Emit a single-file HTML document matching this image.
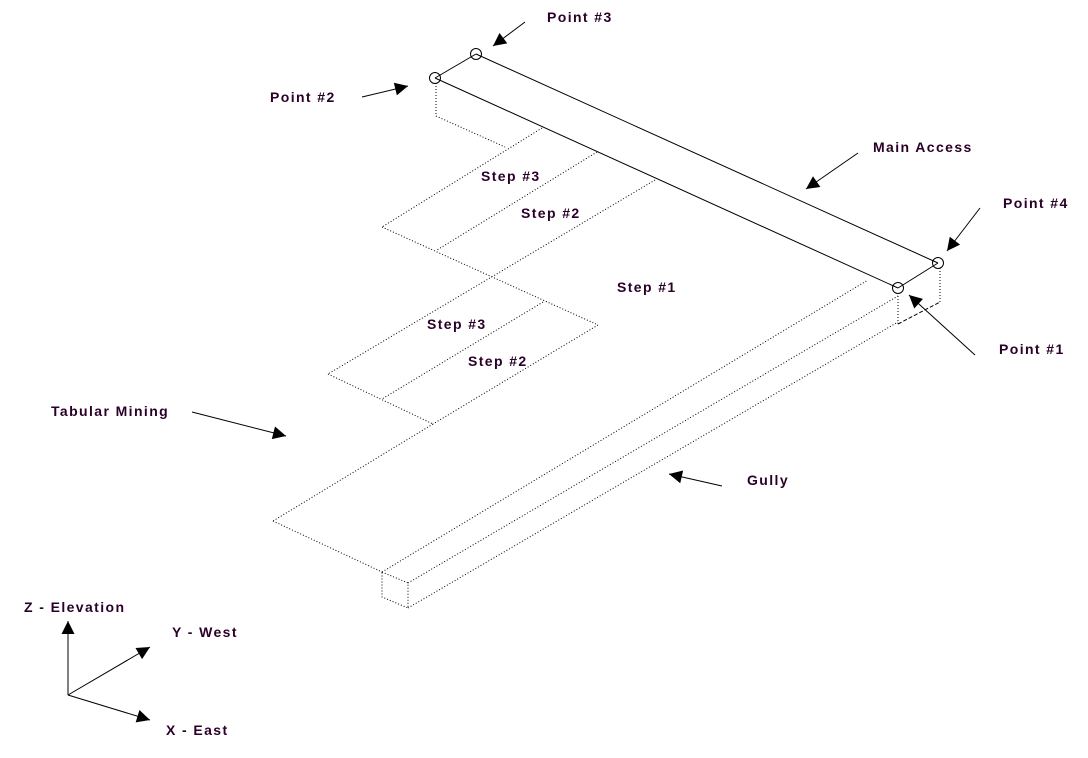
<!DOCTYPE html>
<html><head><style>
html,body{margin:0;padding:0;background:#fff;}
svg{display:block;}
text{font-family:"Liberation Sans",sans-serif;font-weight:bold;font-size:14px;letter-spacing:1.4px;fill:#2a0028;}
</style></head><body>
<svg width="1088" height="758" viewBox="0 0 1088 758" xmlns="http://www.w3.org/2000/svg">
<defs>
<marker id="a" viewBox="0 0 10 10" refX="10" refY="5" markerWidth="15" markerHeight="13" markerUnits="userSpaceOnUse" orient="auto"><path d="M0,0 L10,5 L0,10 z" fill="#000"/></marker>
</defs>
<g stroke="#000" stroke-width="1" fill="none">
<line x1="476" y1="54" x2="938" y2="263"/>
<line x1="435" y1="78" x2="898" y2="288"/>
<line x1="435" y1="78" x2="476" y2="54"/>
<line x1="898" y1="288" x2="938" y2="263"/>
<circle cx="476" cy="54" r="5.5"/>
<circle cx="435" cy="78" r="5.5"/>
<circle cx="938" cy="263" r="5.5"/>
<circle cx="898" cy="288" r="5.5"/>
</g>
<g stroke="#000" stroke-width="1" fill="none" stroke-dasharray="1,2">
<polyline points="436,83 436,116 505,147"/>
<line x1="542" y1="128" x2="382" y2="227"/>
<line x1="382" y1="227" x2="598" y2="325"/>
<line x1="597" y1="152" x2="437" y2="250"/>
<line x1="655" y1="180" x2="328" y2="374"/>
<line x1="543" y1="302" x2="382" y2="399"/>
<line x1="598" y1="325" x2="433" y2="424"/>
<line x1="328" y1="374" x2="433" y2="424"/>
<line x1="433" y1="424" x2="273" y2="521"/>
<line x1="273" y1="521" x2="382" y2="572"/>
<polygon points="382,572 408,583 408,608 382,597"/>
<line x1="382" y1="572" x2="868" y2="280"/>
<line x1="408" y1="583" x2="898" y2="296"/>
<line x1="408" y1="608" x2="898" y2="322"/>
<line x1="898" y1="293" x2="898" y2="325"/>
<line x1="940" y1="268" x2="940" y2="302"/>
</g>
<line x1="898" y1="324" x2="940" y2="302" stroke="#000" stroke-dasharray="4,2"/>
<g stroke="#000" stroke-width="1" marker-end="url(#a)">
<line x1="525" y1="22" x2="493" y2="46"/>
<line x1="362" y1="97" x2="408" y2="86"/>
<line x1="858" y1="153" x2="806" y2="189"/>
<line x1="980" y1="208" x2="947" y2="251"/>
<line x1="975" y1="355" x2="909" y2="295"/>
<line x1="192" y1="412" x2="286" y2="436"/>
<line x1="722" y1="486" x2="669" y2="474"/>
<line x1="68" y1="695" x2="68" y2="621"/>
<line x1="68" y1="695" x2="150" y2="647"/>
<line x1="68" y1="695" x2="150" y2="720"/>
</g>
<text x="547" y="22">Point #3</text>
<text x="270" y="102">Point #2</text>
<text x="873" y="152">Main Access</text>
<text x="1003" y="208">Point #4</text>
<text x="999" y="354">Point #1</text>
<text x="481" y="181">Step #3</text>
<text x="521" y="218">Step #2</text>
<text x="617" y="292">Step #1</text>
<text x="427" y="329">Step #3</text>
<text x="468" y="366">Step #2</text>
<text x="51" y="416">Tabular Mining</text>
<text x="747" y="485">Gully</text>
<text x="24" y="612">Z  - Elevation</text>
<text x="172" y="637">Y - West</text>
<text x="166" y="735">X - East</text>
</svg>
</body></html>
